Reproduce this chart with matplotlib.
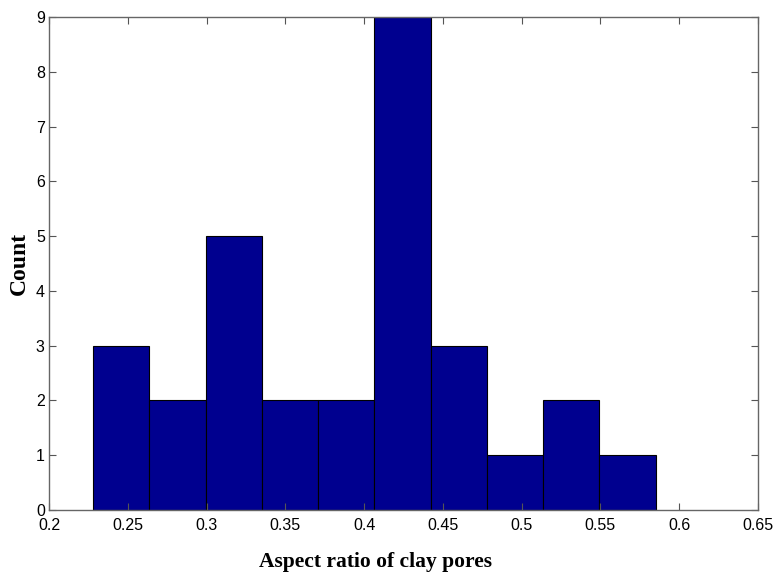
import numpy as np
import matplotlib.pyplot as plt

# histogram of clay pore aspect ratios
counts = [3, 2, 5, 2, 2, 9, 3, 1, 2, 1]
bin_min = 0.228
bin_max = 0.585
xticks = [0.2, 0.25, 0.3, 0.35, 0.4, 0.45, 0.5, 0.55, 0.6, 0.65]
xtick_labels = ['0.2', '0.25', '0.3', '0.35', '0.4', '0.45', '0.5', '0.55', '0.6', '0.65']
yticks = [0, 1, 2, 3, 4, 5, 6, 7, 8, 9]

edges = np.linspace(bin_min, bin_max, len(counts) + 1)

fig = plt.figure(figsize=(7.75, 5.74), dpi=100)
ax = fig.add_axes([0.0632, 0.1115, 0.9148, 0.8589])

ax.bar(edges[:-1], counts, width=np.diff(edges), align='edge',
       color='#00008F', edgecolor='black', linewidth=0.8)

ax.set_xlim(0.2, 0.65)
ax.set_ylim(0, 9)
ax.set_xticks(xticks)
ax.set_xticklabels(xtick_labels)
ax.set_yticks(yticks)

for lab in ax.get_xticklabels() + ax.get_yticklabels():
    lab.set_fontfamily('Liberation Sans')
    lab.set_fontsize(11.5)

ax.tick_params(direction='in', top=True, right=True, length=5, width=0.8,
               color='#555555')
ax.tick_params(axis='x', pad=6)
ax.tick_params(axis='y', pad=3)
for s in ax.spines.values():
    s.set_color('#666666')
    s.set_linewidth(1.0)

ax.set_xlabel('Aspect ratio of clay pores', family='Liberation Serif',
              fontweight='bold', fontsize=15.5, labelpad=17)
ax.xaxis.set_label_coords(0.46, -0.085)
ax.set_ylabel('Count', family='Liberation Serif', fontweight='bold',
              fontsize=17, labelpad=4)

fig.savefig('out.png', dpi=100)
